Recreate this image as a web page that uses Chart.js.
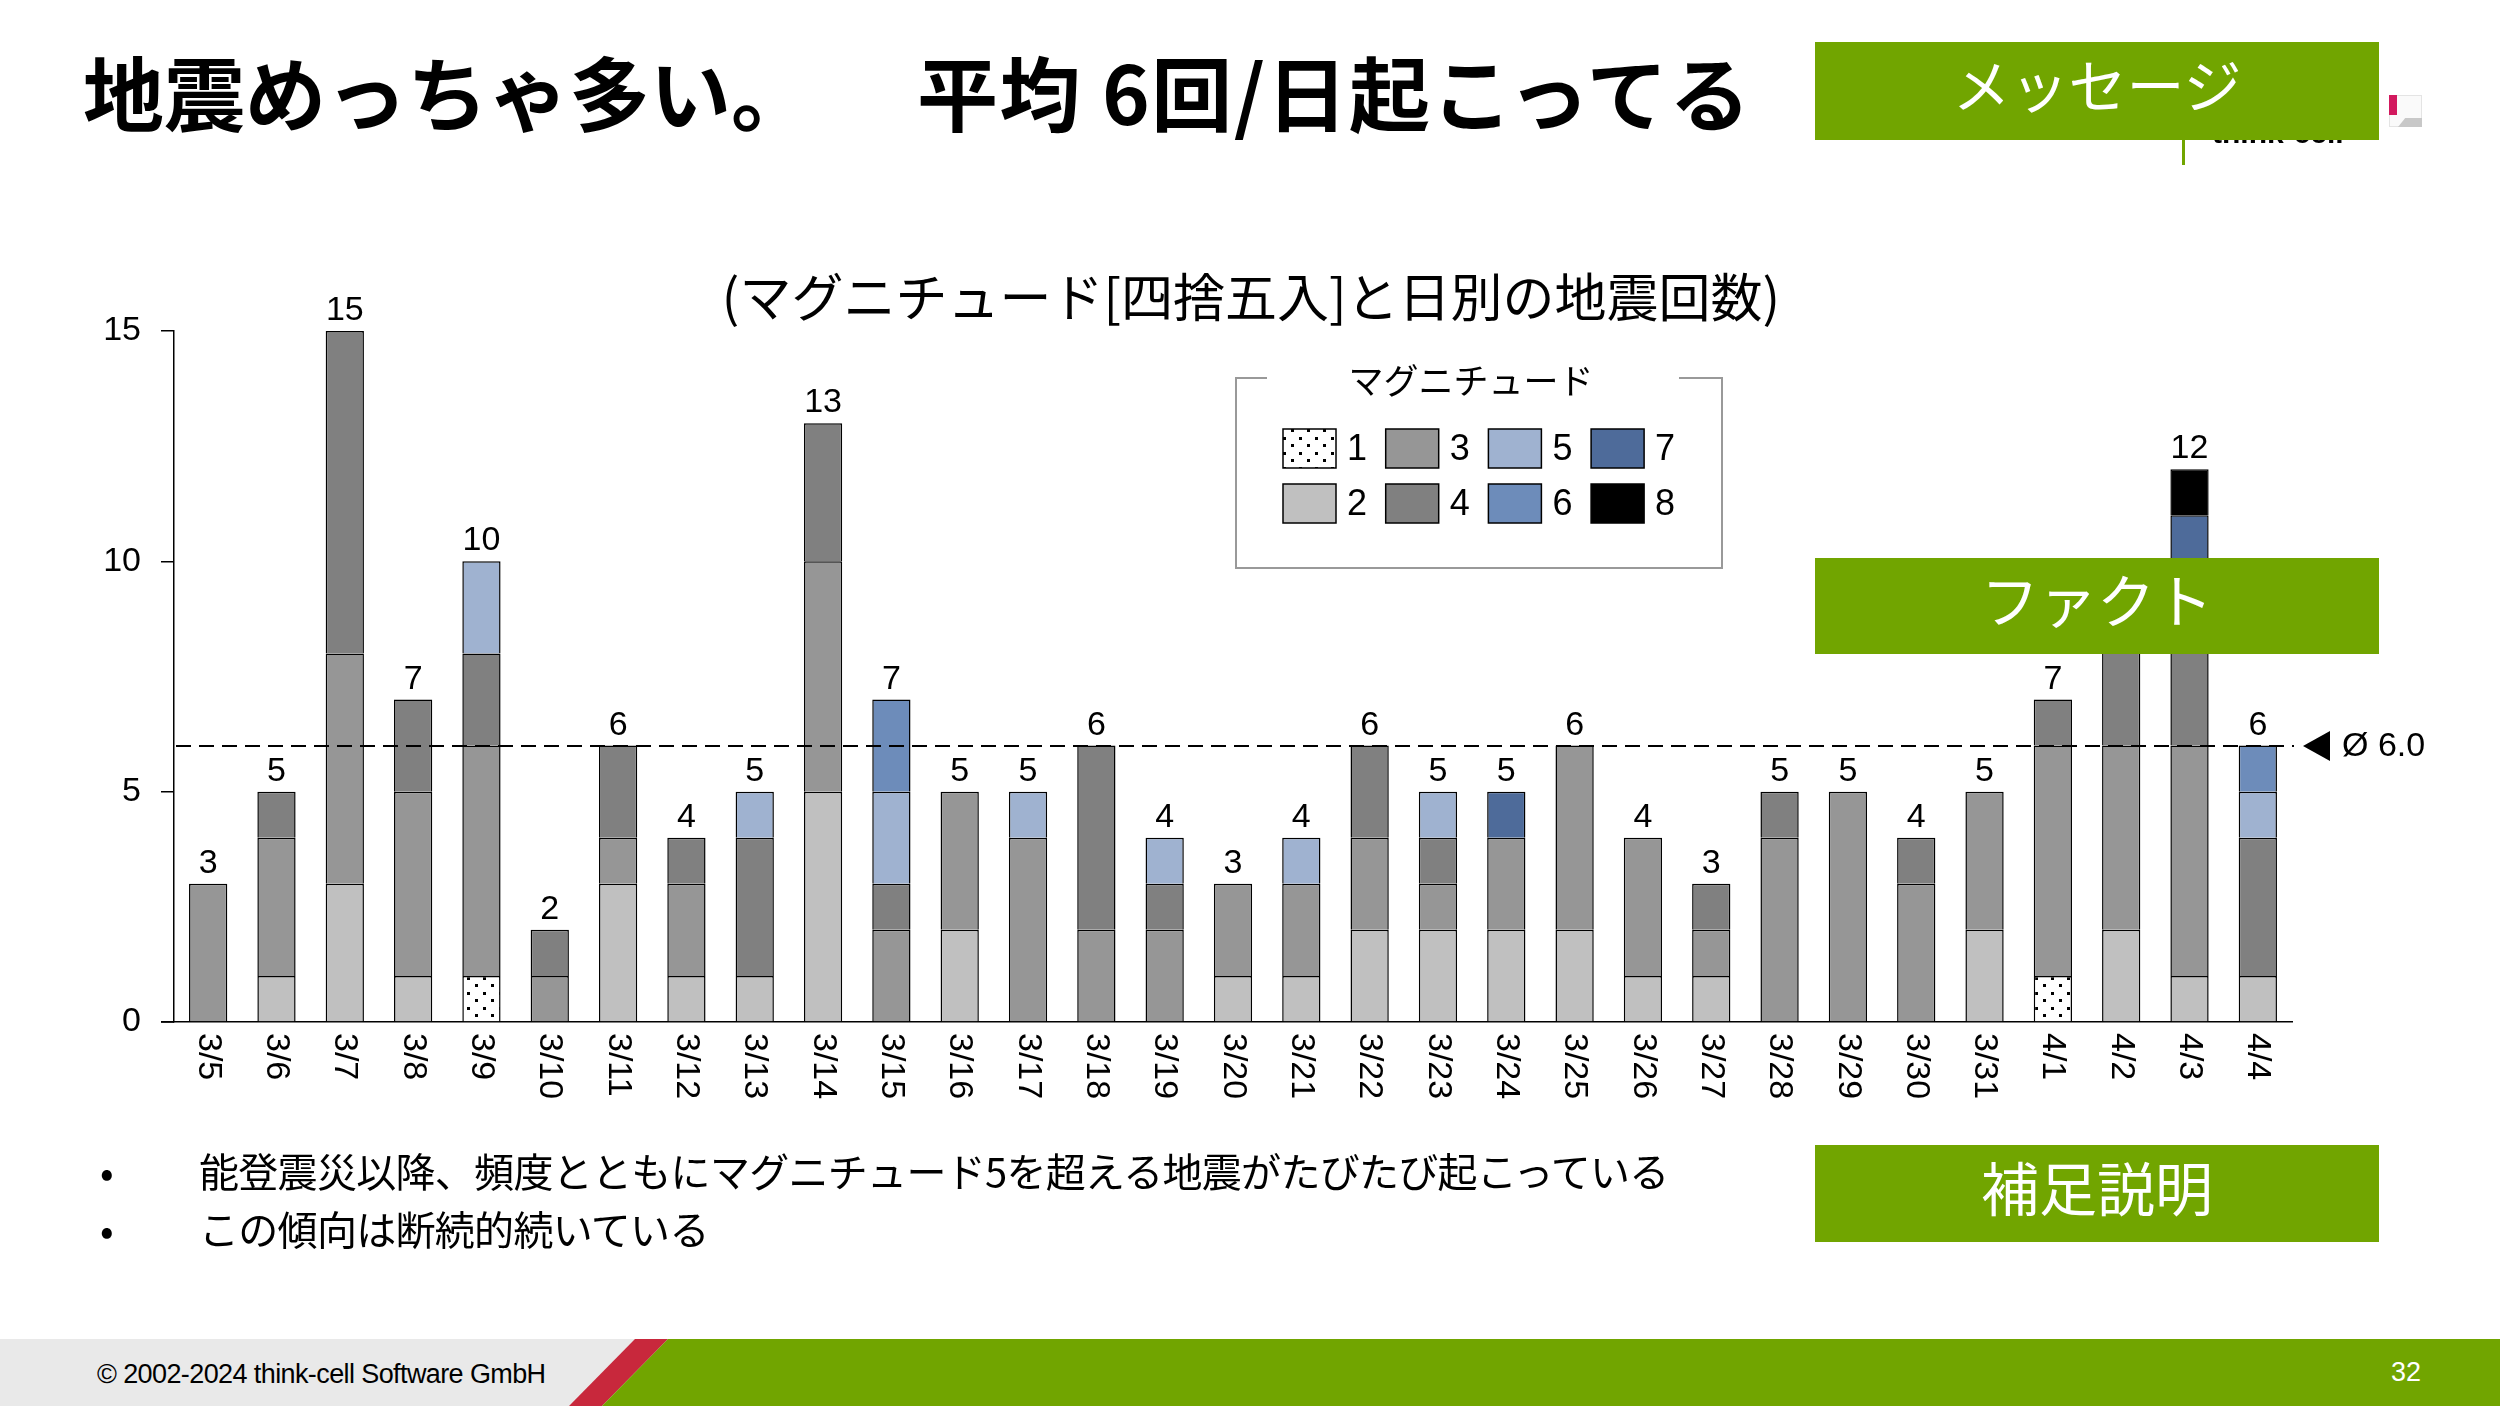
<!DOCTYPE html>
<html lang="ja">
<head>
<meta charset="utf-8">
<script src="https://cdn.jsdelivr.net/npm/chart.js@4.4.1/dist/chart.umd.min.js"></script>
<style>
  html, body { margin: 0; padding: 0; background: #fff; }
  body { width: 2500px; height: 1406px; position: relative; overflow: hidden; font-family: "Noto Sans CJK JP", sans-serif; color: #000; }
  #chart { position: absolute; left: 0; top: 0; z-index: 0; }
  .abs { position: absolute; white-space: nowrap; z-index: 2; }
  .title { font-size: 81px; font-weight: 700; line-height: 81px; top: 49px; }
  .gbox { position: absolute; z-index: 3; left: 1815px; width: 564px; background: #71a500; color: #fff; box-sizing: border-box;
          display: flex; align-items: center; justify-content: center; font-size: 58px; line-height: 58px; padding-bottom: 16px; }
  .bullet { font-size: 40px; line-height: 40px; letter-spacing: -0.7px; }
  .foot { font-family: "Liberation Sans", Arial, sans-serif; font-size: 27px; line-height: 67px; }
  #footer { position: absolute; left: 0; top: 1339px; width: 2500px; height: 67px; background: #e9e9e9; z-index: 2; }
  #footer .band { position: absolute; left: 0; top: 0; width: 2500px; height: 67px; }
</style>
</head>
<body>
<canvas id="chart" width="2500" height="1406"></canvas>

<div class="abs title" style="left:83px">地震めっちゃ多い。</div>
<div class="abs title" style="left:917px;letter-spacing:1.5px">平均 6回/日起こってる</div>

<!-- think-cell logo, mostly hidden under the message box -->
<div class="abs" style="left:2212px;top:118px;font:bold 30px 'Liberation Sans',Arial;line-height:30px">think-cell</div>
<div class="abs" style="left:2182px;top:140px;width:3px;height:25px;background:#71a500"></div>
<div class="abs" style="left:2389px;top:95px;width:33px;height:32px;background:#fafafa;border:1px solid #e4e4e4;box-sizing:border-box"></div>
<div class="abs" style="left:2389px;top:95px;width:8px;height:20px;background:#d2195e"></div>
<div class="abs" style="left:2398px;top:118px;width:24px;height:9px;background:#c8c8c8;clip-path:polygon(30% 0,100% 0,100% 100%,0 100%)"></div>

<div class="gbox" style="top:42px;height:98px">メッセージ</div>
<div class="gbox" style="top:558px;height:96px">ファクト</div>
<div class="gbox" style="top:1145px;height:97px">補足説明</div>

<div class="abs" style="left:0;width:2502px;text-align:center;top:269px;font-size:52px;line-height:52px">(マグニチュード[四捨五入]と日別の地震回数)</div>

<div class="abs bullet" style="left:100px;top:1150px">•</div>
<div class="abs bullet" style="left:199px;top:1150px">能登震災以降、頻度とともにマグニチュード5を超える地震がたびたび起こっている</div>
<div class="abs bullet" style="left:100px;top:1208px">•</div>
<div class="abs bullet" style="left:199px;top:1208px">この傾向は断続的続いている</div>

<div id="footer">
  <div class="band" style="background:#c8283c;clip-path:polygon(635px 0,668px 0,602px 67px,569px 67px)"></div>
  <div class="band" style="background:#71a500;clip-path:polygon(668px 0,2500px 0,2500px 67px,602px 67px)"></div>
  <div class="abs foot" style="left:97px;top:2px;letter-spacing:-0.6px">© 2002-2024 think-cell Software GmbH</div>
  <div class="abs foot" style="left:2391px;top:0;color:#fff">32</div>
</div>

<script>
// === data: earthquakes per day, split by rounded magnitude ===
const days = ['3/5','3/6','3/7','3/8','3/9','3/10','3/11','3/12','3/13','3/14','3/15','3/16','3/17','3/18','3/19','3/20',
              '3/21','3/22','3/23','3/24','3/25','3/26','3/27','3/28','3/29','3/30','3/31','4/1','4/2','4/3','4/4'];
const magnitudes = ['1','2','3','4','5','6','7','8'];
const yTicks = [0, 5, 10, 15];

const mag1 = [0,0,0,0,1,0,0,0,0,0, 0,0,0,0,0,0,0,0,0,0, 0,0,0,0,0,0,0,1,0,0,0];
const mag2 = [0,1,3,1,0,0,3,1,1,5, 0,2,0,0,0,1,1,2,2,2, 2,1,1,0,0,0,2,0,2,1,1];
const mag3 = [3,3,5,4,5,1,1,2,0,5, 2,3,4,2,2,2,2,2,1,2, 4,3,1,4,5,3,3,5,4,5,0];
const mag4 = [0,1,7,2,2,1,2,1,3,3, 1,0,0,4,1,0,0,2,1,0, 0,0,1,1,0,1,0,1,3,4,3];
const mag5 = [0,0,0,0,2,0,0,0,1,0, 2,0,1,0,1,0,1,0,1,0, 0,0,0,0,0,0,0,0,0,0,1];
const mag6 = [0,0,0,0,0,0,0,0,0,0, 2,0,0,0,0,0,0,0,0,0, 0,0,0,0,0,0,0,0,0,0,1];
const mag7 = [0,0,0,0,0,0,0,0,0,0, 0,0,0,0,0,0,0,0,0,1, 0,0,0,0,0,0,0,0,0,1,0];
const mag8 = [0,0,0,0,0,0,0,0,0,0, 0,0,0,0,0,0,0,0,0,0, 0,0,0,0,0,0,0,0,0,1,0];

const series = [mag1, mag2, mag3, mag4, mag5, mag6, mag7, mag8];
const totals = days.map((d, i) => series.reduce((s, arr) => s + arr[i], 0));
const avg = totals.reduce((a, b) => a + b, 0) / totals.length;

const canvas = document.getElementById('chart');
const ctx = canvas.getContext('2d');

// dotted fill used for magnitude 1
function dotPattern() {
  const c = document.createElement('canvas');
  c.width = 16; c.height = 15;
  const g = c.getContext('2d');
  g.fillStyle = '#fff'; g.fillRect(0, 0, 16, 15);
  g.fillStyle = '#000';
  g.fillRect(3, 2, 3, 3);
  g.fillRect(11, 9, 3, 3);
  return ctx.createPattern(c, 'repeat');
}

const fills = [dotPattern(), '#c0c0c0', '#969696', '#808080', '#9fb2d0', '#6d8cba', '#4e6b9a', '#000000'];
const NUM_FONT = '34px "Liberation Sans", Arial, sans-serif';

const decor = {
  id: 'decor',
  afterDatasetsDraw(chart) {
    const { ctx, chartArea, scales: { x, y } } = chart;
    ctx.save();
    ctx.fillStyle = '#000';
    ctx.font = NUM_FONT;

    // totals above the stacks
    ctx.textAlign = 'center';
    ctx.textBaseline = 'alphabetic';
    totals.forEach((t, i) => {
      ctx.fillText(String(t), x.getPixelForValue(i), y.getPixelForValue(t) - 11);
    });

    // category labels, turned clockwise
    ctx.textAlign = 'left';
    ctx.textBaseline = 'middle';
    days.forEach((d, i) => {
      ctx.save();
      ctx.translate(x.getPixelForValue(i), chartArea.bottom + 11);
      ctx.rotate(Math.PI / 2);
      ctx.fillText(d, 0, 0);
      ctx.restore();
    });

    // x axis line runs under the y tick marks too
    ctx.strokeStyle = '#000';
    ctx.lineWidth = 1.5;
    ctx.beginPath();
    ctx.moveTo(chartArea.left - 13, chartArea.bottom);
    ctx.lineTo(chartArea.left, chartArea.bottom);
    ctx.stroke();

    // average line with marker
    const ay = Math.round(y.getPixelForValue(avg));
    ctx.lineWidth = 2;
    ctx.setLineDash([15, 8]);
    ctx.beginPath();
    ctx.moveTo(chartArea.left + 2, ay);
    ctx.lineTo(chartArea.right + 2, ay);
    ctx.stroke();
    ctx.setLineDash([]);
    const tx = chartArea.right + 11;
    ctx.beginPath();
    ctx.moveTo(tx, ay);
    ctx.lineTo(tx + 27, ay - 15);
    ctx.lineTo(tx + 27, ay + 15);
    ctx.closePath();
    ctx.fill();
    ctx.fillText('Ø ' + avg.toFixed(1), tx + 39, ay + 1);

    // legend box
    const L = 1236, T = 378, R = 1722, B = 568;
    ctx.strokeStyle = '#999';
    ctx.lineWidth = 2;
    ctx.beginPath();
    ctx.moveTo(1267, T); ctx.lineTo(L, T); ctx.lineTo(L, B); ctx.lineTo(R, B); ctx.lineTo(R, T); ctx.lineTo(1679, T);
    ctx.stroke();
    ctx.textAlign = 'center';
    ctx.font = '35px "Noto Sans CJK JP", sans-serif';
    ctx.fillText('マグニチュード', 1471, 381);

    ctx.textAlign = 'left';
    ctx.font = '36px "Liberation Sans", Arial, sans-serif';
    chart.data.datasets.forEach((ds, k) => {
      const sx = 1283 + Math.floor(k / 2) * 102.7;
      const sy = 429 + (k % 2) * 55;
      ctx.fillStyle = ds.backgroundColor;
      ctx.fillRect(sx, sy, 53, 39);
      ctx.strokeStyle = '#000';
      ctx.lineWidth = 1.5;
      ctx.strokeRect(sx, sy, 53, 39);
      ctx.fillStyle = '#000';
      ctx.fillText(ds.label, sx + 64, sy + 21);
    });
    ctx.restore();
  }
};

new Chart(ctx, {
  type: 'bar',
  data: {
    labels: days,
    datasets: series.map((arr, k) => ({
      label: magnitudes[k],
      data: arr.map(v => v === 0 ? null : v),
      backgroundColor: fills[k],
      borderColor: '#000',
      borderWidth: 1.5,
      borderSkipped: 'start',
      categoryPercentage: 1,
      barPercentage: 0.56
    }))
  },
  options: {
    responsive: false,
    animation: false,
    devicePixelRatio: 1,
    layout: { padding: { top: 331, right: 208, bottom: 0, left: 0 } },
    plugins: { legend: { display: false }, tooltip: { enabled: false } },
    scales: {
      x: {
        stacked: true,
        grid: { display: false },
        border: { display: true, color: '#000', width: 1.5 },
        ticks: { display: false },
        afterFit: s => { s.height = 384; }
      },
      y: {
        stacked: true,
        min: yTicks[0],
        max: yTicks[yTicks.length - 1],
        afterBuildTicks: s => { s.ticks = yTicks.map(v => ({ value: v })); },
        ticks: { color: '#000', font: { family: '"Liberation Sans", Arial', size: 34 }, padding: 20 },
        grid: { drawOnChartArea: false, drawTicks: true, tickLength: 13, color: '#000', lineWidth: 1.5 },
        border: { display: true, color: '#000', width: 1.5 },
        afterFit: s => { s.width = 174; }
      }
    }
  },
  plugins: [decor]
});
</script>
</body>
</html>
